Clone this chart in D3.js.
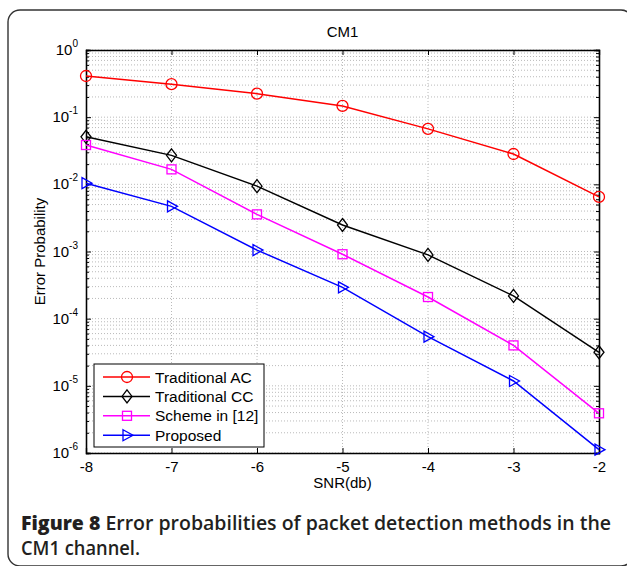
<!DOCTYPE html>
<html>
<head>
<meta charset="utf-8">
<script src="https://cdn.jsdelivr.net/npm/d3@7"></script>
<style>
  body { margin: 0; background: #fff; }
  svg { display: block; }
</style>
</head>
<body>
<script>
const W = 627, H = 566;
const snr = [-8, -7, -6, -5, -4, -3, -2];
const tradAC = [0.41, 0.31, 0.224, 0.147, 0.067, 0.0283, 0.0065];
const tradCC = [0.051, 0.027, 0.0094, 0.00248, 0.00089, 0.000218, 0.0000316];
const scheme12 = [0.0385, 0.0167, 0.00357, 0.00091, 0.00021, 0.00004, 0.0000039];
const proposed = [0.0104, 0.0047, 0.00105, 0.000293, 0.000054, 0.0000118, 0.00000112];
const seriesNames = ['Traditional AC', 'Traditional CC', 'Scheme in [12]', 'Proposed'];
const seriesColors = ['#ff0000', '#000000', '#ff00ff', '#0000ff'];
const seriesMarkers = ['circle', 'diamond', 'square', 'triangle'];
const yDecades = [0, -1, -2, -3, -4, -5, -6];

const m = {left: 86, right: 599, top: 50, bottom: 453};
const font = 'Liberation Sans, Arial, sans-serif';

let svg = d3.select('body').append('svg')
    .attr('width', W).attr('height', H);

// outer frame
svg.append('rect')
    .attr('x', 8).attr('y', 10)
    .attr('width', 625).attr('height', 556)
    .attr('rx', 12).attr('ry', 12)
    .attr('fill', 'none').attr('stroke', '#333').attr('stroke-width', 1.4);

let x = d3.scaleLinear().domain([-8, -2]).range([m.left, m.right]);
let y = d3.scaleLog().domain([1e-6, 1]).range([m.bottom, m.top]);

// grid
let grid = svg.append('g').attr('stroke', '#a8a8a8').attr('stroke-width', 0.8)
    .attr('stroke-dasharray', '1,2');
let minor = [];
yDecades.slice(1).forEach(d => {
    for (let k = 1; k < 10; k++) minor.push(k * Math.pow(10, d));
});
minor.push(1);
grid.selectAll('line.h').data(minor).enter().append('line')
    .attr('x1', m.left).attr('x2', m.right)
    .attr('y1', d => y(d)).attr('y2', d => y(d));
grid.selectAll('line.v').data(snr.slice(1, -1)).enter().append('line')
    .attr('y1', m.top).attr('y2', m.bottom)
    .attr('x1', d => x(d)).attr('x2', d => x(d));

// axes with inward ticks
let gx = svg.append('g').attr('transform', `translate(0,${m.bottom})`)
    .call(d3.axisBottom(x).tickValues(snr).tickSize(-5).tickFormat(d => d));
gx.selectAll('text').attr('dy', 0).attr('y', 19);
svg.append('g').attr('transform', `translate(0,${m.top})`)
    .call(d3.axisTop(x).tickValues(snr).tickSize(-5).tickFormat(''));

let yMajor = yDecades.map(d => Math.pow(10, d));
let yMinor = minor.filter(v => Math.abs(Math.log10(v) - Math.round(Math.log10(v))) > 1e-6);
svg.append('g').attr('transform', `translate(${m.left},0)`)
    .call(d3.axisLeft(y).tickValues(yMajor).tickSize(-5).tickFormat(''));
svg.append('g').attr('transform', `translate(${m.left},0)`)
    .call(d3.axisLeft(y).tickValues(yMinor).tickSize(-3).tickFormat(''));
svg.append('g').attr('transform', `translate(${m.right},0)`)
    .call(d3.axisRight(y).tickValues(yMajor).tickSize(-5).tickFormat(''));
svg.append('g').attr('transform', `translate(${m.right},0)`)
    .call(d3.axisRight(y).tickValues(yMinor).tickSize(-3).tickFormat(''));

svg.selectAll('.domain').attr('stroke', '#000').attr('stroke-width', 1.3);
svg.selectAll('.tick line').attr('stroke', '#000');
svg.selectAll('.tick text').attr('font-family', font).attr('font-size', 15).attr('fill', '#000');

// y tick labels 10^k
let yl = svg.append('g').attr('font-family', font).attr('fill', '#000');
yDecades.forEach(d => {
    let t = yl.append('text')
        .attr('x', 78).attr('y', y(Math.pow(10, d)) + 5)
        .attr('text-anchor', 'end').attr('font-size', 15);
    t.append('tspan').text('10');
    t.append('tspan').text(d).attr('font-size', 10).attr('dy', -8);
});

// series
let line = d3.line().x((d, i) => x(snr[i])).y(d => y(d));
let allSeries = [tradAC, tradCC, scheme12, proposed];

function marker(g, type, color) {
    if (type === 'circle') {
        g.append('circle').attr('r', 5.5);
    } else if (type === 'diamond') {
        g.append('path').attr('d', 'M0,-6.5L5,0L0,6.5L-5,0Z');
    } else if (type === 'square') {
        g.append('rect').attr('x', -4.5).attr('y', -4.5).attr('width', 9).attr('height', 9);
    } else {
        g.append('path').attr('d', 'M-4,-5.5L6,0L-4,5.5Z');
    }
    g.selectAll('*').attr('fill', 'none').attr('stroke', color).attr('stroke-width', 1.3);
}

allSeries.forEach((vals, si) => {
    svg.append('path')
        .attr('d', line(vals))
        .attr('fill', 'none')
        .attr('stroke', seriesColors[si])
        .attr('stroke-width', 1.5);
    svg.selectAll(null).data(vals).enter().append('g')
        .attr('transform', (d, i) => `translate(${x(snr[i])},${y(d)})`)
        .each(function() { marker(d3.select(this), seriesMarkers[si], seriesColors[si]); });
});

// legend
let lg = svg.append('g');
lg.append('rect').attr('x', 94).attr('y', 364).attr('width', 170).attr('height', 83)
    .attr('fill', '#fff').attr('stroke', '#000').attr('stroke-width', 1);
seriesNames.forEach((name, i) => {
    let ry = 377 + i * 19.4;
    lg.append('line').attr('x1', 103).attr('x2', 150).attr('y1', ry).attr('y2', ry)
        .attr('stroke', seriesColors[i]).attr('stroke-width', 1.5);
    marker(lg.append('g').attr('transform', `translate(127,${ry})`), seriesMarkers[i], seriesColors[i]);
    lg.append('text').attr('x', 155).attr('y', ry + 5.5)
        .attr('font-family', font).attr('font-size', 15.5).text(name);
});

// titles
svg.append('text').attr('x', (m.left + m.right) / 2).attr('y', 37)
    .attr('text-anchor', 'middle').attr('font-family', font).attr('font-size', 15).text('CM1');
svg.append('text').attr('x', (m.left + m.right) / 2).attr('y', 488)
    .attr('text-anchor', 'middle').attr('font-family', font).attr('font-size', 15).text('SNR(db)');
svg.append('text')
    .attr('transform', `translate(45,${(m.top + m.bottom) / 2}) rotate(-90)`)
    .attr('text-anchor', 'middle').attr('font-family', font).attr('font-size', 15).text('Error Probability');

// caption
let capFont = 'Open Sans, Noto Sans, sans-serif';
let c1 = svg.append('text').attr('x', 21).attr('y', 530)
    .attr('font-family', capFont).attr('font-size', 19).attr('fill', '#231f20')
    .attr('textLength', 590).attr('lengthAdjust', 'spacingAndGlyphs');
c1.append('tspan').attr('font-weight', 800).text('Figure 8 ');
c1.append('tspan').attr('font-weight', 600).text('Error probabilities of packet detection methods in the');
svg.append('text').attr('x', 21).attr('y', 555)
    .attr('font-family', capFont).attr('font-size', 19).attr('fill', '#231f20')
    .attr('font-weight', 600)
    .attr('textLength', 119).attr('lengthAdjust', 'spacingAndGlyphs')
    .text('CM1 channel.');
</script>
</body>
</html>
